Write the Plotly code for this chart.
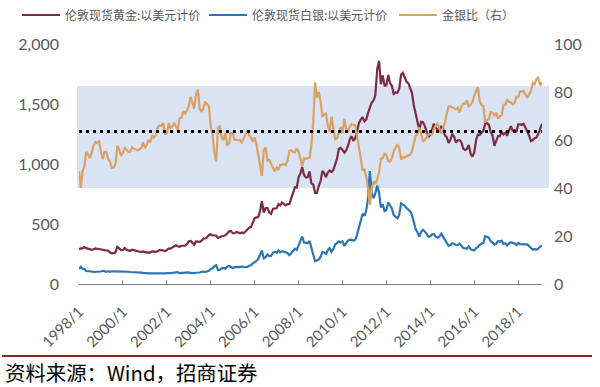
import plotly.graph_objects as go
import pandas as pd

# Monthly values, 1998/1 .. 2019/2
gold = [
    289, 297, 296, 308, 299, 292, 289, 284, 289, 296, 294, 291,      # 1998
    287, 287, 286, 282, 277, 262, 256, 257, 265, 311, 293, 283,      # 1999
    284, 300, 286, 280, 275, 286, 282, 275, 273, 270, 266, 272,      # 2000
    266, 262, 263, 261, 272, 270, 268, 273, 283, 283, 276, 275,      # 2001
    282, 296, 294, 302, 314, 322, 314, 310, 319, 317, 320, 333,      # 2002
    357, 359, 340, 328, 355, 356, 351, 360, 379, 379, 389, 407,      # 2003
    414, 405, 406, 404, 384, 392, 398, 400, 405, 420, 439, 442,      # 2004
    424, 423, 434, 429, 422, 430, 424, 437, 456, 470, 476, 510,      # 2005
    549, 555, 557, 610, 690, 596, 633, 632, 598, 585, 627, 629,      # 2006
    631, 665, 655, 679, 667, 655, 665, 665, 713, 754, 806, 803,      # 2007
    889, 922, 975, 909, 888, 890, 939, 839, 829, 760, 760, 816,      # 2008
    858, 943, 924, 890, 928, 946, 934, 949, 996, 1043, 1127, 1134,   # 2009
    1118, 1095, 1113, 1148, 1205, 1232, 1193, 1215, 1271, 1343, 1370, 1391,  # 2010
    1356, 1372, 1424, 1474, 1512, 1529, 1573, 1790, 1860, 1665, 1739, 1652,  # 2011
    1656, 1742, 1674, 1650, 1585, 1596, 1594, 1626, 1744, 1760, 1721, 1685,  # 2012
    1671, 1627, 1593, 1487, 1414, 1343, 1286, 1352, 1348, 1316, 1275, 1225,  # 2013
    1244, 1300, 1336, 1299, 1287, 1279, 1311, 1296, 1238, 1222, 1176, 1201,  # 2014
    1251, 1227, 1179, 1198, 1199, 1181, 1128, 1117, 1125, 1159, 1086, 1062,  # 2015
    1097, 1200, 1246, 1242, 1260, 1276, 1337, 1341, 1326, 1267, 1236, 1152,  # 2016
    1192, 1234, 1231, 1266, 1246, 1260, 1237, 1283, 1315, 1280, 1282, 1265,  # 2017
    1331, 1331, 1325, 1335, 1304, 1281, 1238, 1190, 1199, 1215, 1221, 1250,  # 2018
    1291, 1335,                                                             # 2019
]

silver = [
    6.2, 7.2, 6.3, 6.3, 5.4, 5.4, 5.5, 5.2, 5.0, 5.0, 5.0, 4.9,      # 1998
    5.2, 5.5, 5.2, 5.1, 5.3, 5.1, 5.3, 5.3, 5.3, 5.4, 5.2, 5.3,      # 1999
    5.2, 5.3, 5.1, 5.1, 5.0, 5.0, 5.0, 4.9, 4.9, 4.8, 4.7, 4.6,      # 2000
    4.7, 4.5, 4.4, 4.4, 4.4, 4.4, 4.3, 4.2, 4.3, 4.3, 4.1, 4.4,      # 2001
    4.5, 4.4, 4.5, 4.6, 4.7, 4.9, 4.9, 4.5, 4.6, 4.4, 4.5, 4.6,      # 2002
    4.8, 4.6, 4.5, 4.5, 4.7, 4.6, 4.8, 5.0, 5.2, 5.0, 5.2, 5.5,      # 2003
    6.3, 6.5, 7.4, 7.8, 5.9, 5.9, 6.5, 6.7, 6.4, 7.2, 7.5, 7.0,      # 2004
    6.7, 7.0, 7.2, 7.1, 7.0, 7.3, 7.0, 7.0, 7.1, 7.6, 7.8, 8.6,      # 2005
    9.0, 9.6, 10.4, 12.6, 14.0, 10.7, 11.1, 12.3, 11.6, 11.7, 13.0, 13.4,  # 2006
    13.0, 14.0, 13.2, 13.7, 13.3, 13.2, 12.9, 12.0, 12.8, 13.7, 14.7, 14.2,  # 2007
    16.1, 17.6, 19.8, 17.3, 17.0, 17.0, 17.9, 14.6, 12.3, 9.5, 9.8, 10.2,  # 2008
    11.3, 13.4, 13.1, 12.5, 14.1, 14.9, 13.4, 14.5, 16.5, 17.2, 17.7, 17.3,  # 2009
    17.8, 15.9, 17.1, 18.1, 18.4, 18.5, 18.0, 18.4, 20.6, 23.4, 26.4, 29.3,  # 2010
    28.4, 30.8, 35.8, 47.0, 38.0, 35.8, 37.7, 41.0, 38.0, 31.9, 33.1, 30.4,  # 2011
    30.8, 34.0, 32.8, 31.5, 28.7, 28.0, 27.4, 28.7, 33.6, 33.1, 32.6, 31.7,  # 2012
    31.1, 30.2, 28.8, 25.4, 22.9, 21.5, 19.7, 21.7, 22.6, 21.9, 20.8, 19.7,  # 2013
    19.9, 20.8, 20.7, 19.7, 19.3, 19.8, 20.9, 19.9, 18.4, 17.2, 15.9, 16.2,  # 2014
    17.0, 16.8, 16.2, 16.3, 16.8, 16.0, 15.0, 14.9, 14.7, 15.7, 14.5, 14.1,  # 2015
    14.0, 15.0, 15.4, 16.3, 16.9, 17.2, 19.9, 19.6, 19.3, 17.7, 17.3, 16.4,  # 2016
    16.7, 17.9, 17.6, 18.0, 16.7, 16.9, 16.1, 16.9, 17.4, 17.1, 17.0, 16.2,  # 2017
    17.1, 16.6, 16.5, 16.6, 16.5, 16.5, 15.7, 14.9, 14.3, 14.6, 14.3, 14.7,  # 2018
    15.6, 15.9,                                                            # 2019
]

ratio = [
    47.0, 40.0, 47.0, 49.0, 55.0, 54.0, 52.5, 54.6, 57.8, 59.2, 58.8, 59.4,  # 1998
    55.0, 52.0, 55.0, 55.0, 52.0, 51.0, 48.5, 48.5, 50.0, 57.6, 56.0, 53.4,  # 1999
    54.6, 56.6, 56.0, 55.0, 55.0, 57.0, 56.4, 56.0, 55.7, 56.0, 56.6, 59.0,  # 2000
    56.6, 58.0, 60.0, 59.0, 62.0, 61.0, 62.0, 65.0, 66.0, 66.0, 67.0, 62.5,  # 2001
    62.7, 67.0, 65.0, 65.7, 67.0, 65.7, 64.0, 69.0, 69.3, 72.0, 71.0, 72.4,  # 2002
    74.0, 78.0, 75.5, 73.0, 79.0, 81.0, 73.0, 72.0, 73.0, 76.0, 75.0, 74.0,  # 2003
    65.7, 62.0, 55.0, 51.0, 65.0, 66.0, 61.0, 60.0, 63.0, 58.0, 58.5, 63.0,  # 2004
    63.0, 60.0, 60.0, 60.0, 60.0, 59.0, 60.6, 62.4, 64.0, 62.0, 61.0, 59.3,  # 2005
    61.0, 57.8, 53.6, 48.4, 45.0, 55.7, 57.0, 51.4, 51.6, 50.0, 48.2, 47.0,  # 2006
    48.5, 47.5, 49.6, 49.6, 50.0, 49.6, 51.5, 55.4, 55.7, 55.0, 54.8, 56.5,  # 2007
    55.2, 52.4, 49.2, 52.5, 52.2, 52.4, 52.5, 57.5, 67.4, 84.0, 77.6, 80.0,  # 2008
    76.0, 70.0, 70.5, 71.0, 66.0, 63.5, 69.7, 65.4, 60.4, 60.6, 63.7, 65.5,  # 2009
    62.8, 68.9, 65.0, 63.4, 65.5, 66.6, 66.3, 66.0, 61.7, 57.4, 51.9, 47.5,  # 2010
    47.7, 44.5, 39.8, 33.0, 39.8, 42.7, 41.7, 43.6, 46.6, 52.0, 52.5, 54.3,  # 2011
    53.8, 51.2, 51.0, 52.4, 55.2, 57.0, 58.2, 56.7, 51.9, 52.8, 52.8, 53.2,  # 2012
    53.7, 53.9, 55.3, 58.5, 61.7, 62.5, 65.3, 62.3, 59.6, 60.0, 61.3, 62.2,  # 2013
    62.5, 62.5, 64.5, 66.0, 66.7, 64.6, 62.7, 65.0, 67.3, 71.0, 74.0, 74.0,  # 2014
    73.6, 73.0, 72.8, 73.5, 71.4, 73.8, 75.2, 75.0, 76.5, 73.8, 75.0, 75.7,  # 2015
    78.4, 80.0, 82.0, 76.2, 74.6, 74.2, 67.2, 68.4, 68.7, 71.6, 71.4, 70.2,  # 2016
    71.4, 68.9, 69.9, 70.3, 74.6, 74.6, 76.8, 75.9, 75.6, 74.9, 75.4, 78.0,  # 2017
    77.8, 80.2, 80.3, 80.4, 79.0, 77.6, 78.9, 80.7, 83.8, 83.2, 85.4, 86.0,  # 2018
    82.8, 84.0,                                                                 # 2019
]

ratio_mean = 63.5          # dotted line (right axis)
band_low, band_high = 40, 82.5   # shaded band (right axis)

dates = pd.date_range("1998-01-01", periods=len(gold), freq="MS")

names = ["伦敦现货黄金:以美元计价", "伦敦现货白银:以美元计价", "金银比（右）"]
colors = ["#7B2C42", "#2E75B6", "#D9A262"]

fig = go.Figure()
fig.add_trace(go.Scatter(x=dates, y=gold, name=names[0], mode="lines", legend="legend",
                         line=dict(color=colors[0], width=2.2), yaxis="y"))
fig.add_trace(go.Scatter(x=dates, y=silver, name=names[1], mode="lines", legend="legend2",
                         line=dict(color=colors[1], width=2.2), yaxis="y2"))
fig.add_trace(go.Scatter(x=dates, y=ratio, name=names[2], mode="lines", legend="legend3",
                         line=dict(color=colors[2], width=2.2), yaxis="y2"))
fig.add_trace(go.Scatter(x=[dates[0], dates[-1]], y=[ratio_mean, ratio_mean],
                         mode="lines", showlegend=False, yaxis="y2",
                         line=dict(color="black", width=3, dash="3px,4px")))

W, H = 600, 387
L, R, T, B = 79, 58, 44, 103
pw, ph = W - L - R, H - T - B

def px(xpix):
    return (xpix - L) / pw

def py(ypix):
    return (H - B - ypix) / ph

tickfont = dict(family="Lato", size=16, color="#595959")
legfont = dict(family="Noto Sans CJK SC", size=12, color="#595959")

def leg(xpix):
    return dict(orientation="h", xref="container", yref="container",
                x=xpix / W, xanchor="left", y=1 - 15 / H, yanchor="middle",
                font=legfont, itemwidth=38, bgcolor="rgba(0,0,0,0)")

fig.update_layout(
    width=W, height=H,
    margin=dict(l=L, r=R, t=T, b=B, autoexpand=False),
    paper_bgcolor="white", plot_bgcolor="rgba(0,0,0,0)",
    showlegend=True,
    legend=leg(17), legend2=leg(204), legend3=leg(394),
    xaxis=dict(type="date", range=[dates[0], dates[-1]], tick0="1998-01-01", dtick="M24",
               tickformat="%Y/%-m", tickangle=-45, ticks="inside", ticklen=4,
               tickcolor="#808080", showline=True, linecolor="#808080", linewidth=1,
               showgrid=False, zeroline=False, ticklabelstandoff=12,
               tickfont=dict(family="Lato", size=15, color="#595959")),
    yaxis=dict(range=[0, 2000], dtick=500, tickformat=",", showgrid=False, zeroline=False,
               ticks="", showline=False, tickfont=tickfont, ticklabelstandoff=19),
    yaxis2=dict(range=[0, 100], dtick=20, overlaying="y", side="right", showgrid=False,
                zeroline=False, ticks="", showline=False, tickfont=tickfont,
                ticklabelstandoff=11),
    shapes=[
        dict(type="rect", xref="paper", yref="y2", x0=px(77), x1=px(549),
             y0=band_low, y1=band_high, fillcolor="#DAE3F3", line=dict(width=0),
             layer="below"),
        dict(type="line", xref="paper", yref="paper", x0=px(2), x1=px(592),
             y0=py(356), y1=py(356), line=dict(color="#981E1E", width=2)),
    ],
    annotations=[
        dict(text="资料来源：Wind，招商证券", xref="paper", yref="paper",
             x=px(3), y=py(372), xanchor="left", yanchor="middle", showarrow=False,
             font=dict(family="Noto Sans CJK SC", size=20.4, color="black")),
    ],
)

fig.write_html("out.html", config={"displayModeBar": False},
               post_script="document.body.style.margin='0';")
